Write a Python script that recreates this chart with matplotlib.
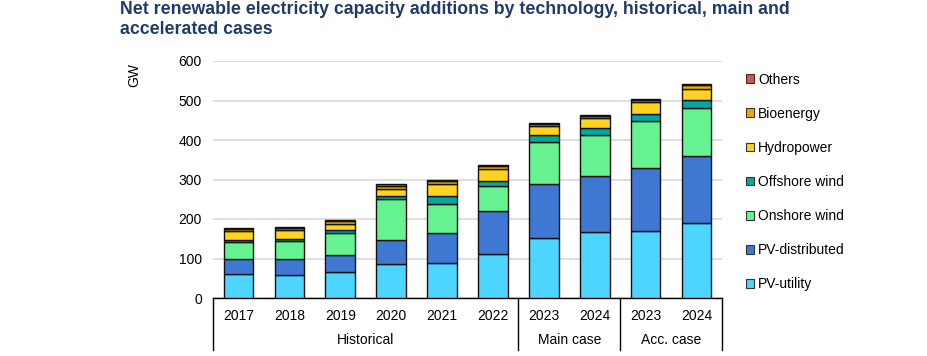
import matplotlib
matplotlib.use("Agg")
import matplotlib.pyplot as plt
from matplotlib.patches import Patch
import numpy as np

plt.rcParams['font.family'] = ['Liberation Sans', 'DejaVu Sans']

years = ["2017", "2018", "2019", "2020", "2021", "2022", "2023", "2024", "2023", "2024"]
groups = ["Historical", "Main case", "Acc. case"]
group_sizes = [6, 2, 2]

pv_utility     = [62, 57, 66, 85, 88, 112, 151, 167, 170, 191]
pv_distributed = [36, 42, 44, 63, 76, 108, 137, 141, 158, 168]
onshore_wind   = [43, 45, 54, 103, 74, 63, 107, 104, 119, 121]
offshore_wind  = [6, 5, 7, 6, 20, 12, 17, 18, 20, 22]
hydropower     = [23, 22, 17, 20, 31, 32, 23, 25, 28, 28]
bioenergy      = [5, 6, 6, 7, 7, 6, 5, 7, 7, 10]
others         = [3, 3, 4, 4, 4, 4, 3, 2, 2, 3]

series = [
    ("PV-utility", pv_utility, "#4dd4ff"),
    ("PV-distributed", pv_distributed, "#3f78d2"),
    ("Onshore wind", onshore_wind, "#66f291"),
    ("Offshore wind", offshore_wind, "#00a99d"),
    ("Hydropower", hydropower, "#ffd320"),
    ("Bioenergy", bioenergy, "#f0a800"),
    ("Others", others, "#e84b4b"),
]

fig = plt.figure(figsize=(9.28, 3.56), dpi=100)
ax = fig.add_axes([213/928, 1-298/356, (722-213)/928, (298-61)/356])

x = np.arange(len(years))
bottom = np.zeros(len(years))
handles = []
for name, vals, col in series:
    v = np.array(vals, dtype=float)
    ax.bar(x, v, bottom=bottom, width=0.58, color=col, edgecolor="#111111", linewidth=1.0, zorder=3)
    bottom += v
    handles.append(Patch(facecolor=col, edgecolor="#333333", linewidth=0.8, label=name))

ax.set_xlim(-0.5, len(years) - 0.5)
ax.set_ylim(0, 600)
ax.set_yticks(range(0, 601, 100))
ax.yaxis.grid(True, color="#d9d9d9", linewidth=1.2, zorder=0)
ax.set_axisbelow(True)
ax.tick_params(axis='y', length=0, pad=8, labelsize=10)
ax.set_xticks([])
for s in ["left", "right", "top"]:
    ax.spines[s].set_visible(False)
ax.spines["bottom"].set_color("black")
ax.spines["bottom"].set_linewidth(1.0)

ax.set_ylabel("GW", fontsize=10)
ax.yaxis.set_label_coords(-0.141, 0.941)

# category table below axis
tr = ax.get_xaxis_transform()
depth = -0.22
bounds = [-0.5]
for g in group_sizes:
    bounds.append(bounds[-1] + g)
for b in bounds:
    ax.plot([b, b], [0, depth], transform=tr, color="black", linewidth=1.0, clip_on=False)
for xi, yl in zip(x, years):
    ax.text(xi, -0.076, yl, transform=tr, ha="center", va="center", fontsize=10)
for i, gname in enumerate(groups):
    cx = (bounds[i] + bounds[i+1]) / 2
    ax.text(cx, -0.177, gname, transform=tr, ha="center", va="center", fontsize=10)

fig.legend(handles=handles[::-1], loc="upper left", bbox_to_anchor=(740/928, 1-67/356),
           frameon=False, fontsize=10, handlelength=0.6, handleheight=0.6,
           handletextpad=0.3, labelspacing=1.45, borderaxespad=0)

fig.text(120/928, 1-1/356,
         "Net renewable electricity capacity additions by technology, historical, main and\naccelerated cases",
         ha="left", va="top", fontsize=12.8, fontweight="bold", color="#1f3b6b", linespacing=1.2)

fig.savefig("out.png", dpi=100)
